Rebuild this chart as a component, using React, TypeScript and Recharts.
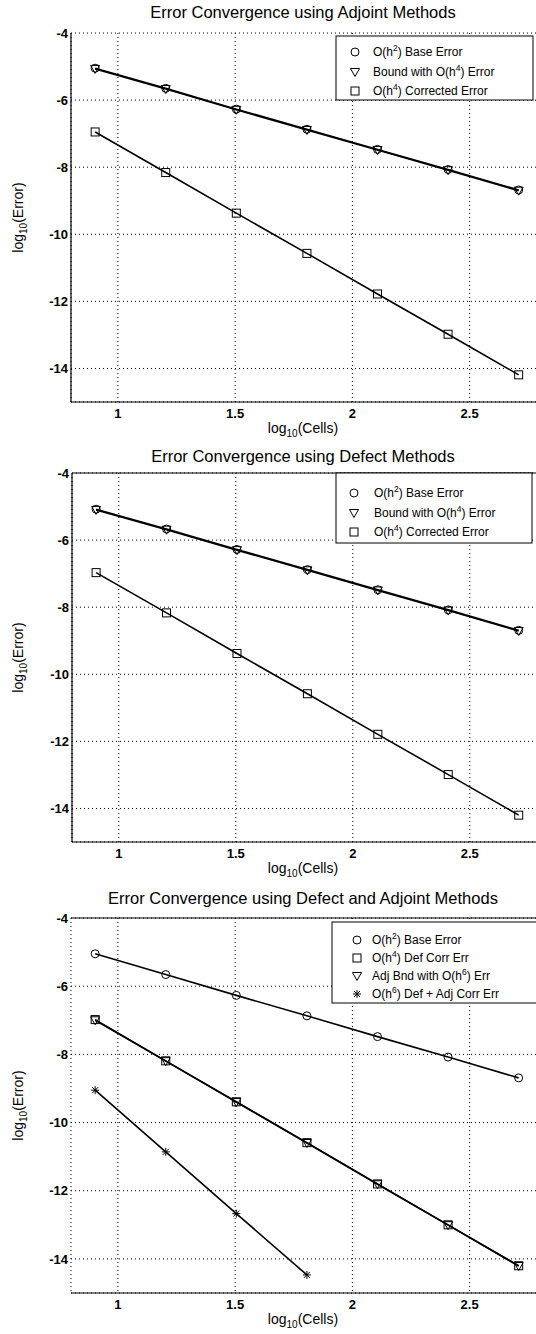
import { LineChart, Line, XAxis, YAxis, CartesianGrid, ReferenceLine } from "recharts";

// log10 of cell counts 8 .. 512
const cells = [0.903, 1.204, 1.505, 1.806, 2.107, 2.408, 2.709];

// Adjoint methods
const adjBase = [-5.05, -5.65, -6.27, -6.87, -7.47, -8.07, -8.68];
const adjBound = [-5.07, -5.67, -6.29, -6.89, -7.49, -8.09, -8.7];
const adjCorr = [-6.95, -8.16, -9.37, -10.57, -11.78, -12.98, -14.19];

// Defect methods
const defBase = [-5.08, -5.67, -6.28, -6.88, -7.48, -8.08, -8.69];
const defBound = [-5.1, -5.69, -6.3, -6.9, -7.5, -8.1, -8.71];
const defCorr = [-6.97, -8.17, -9.38, -10.58, -11.79, -12.99, -14.2];

// Defect + adjoint methods
const bothBase = [-5.05, -5.66, -6.27, -6.87, -7.48, -8.08, -8.69];
const bothDefCorr = [-6.98, -8.19, -9.39, -10.59, -11.8, -13.0, -14.2];
const bothAdjBnd = [-7.0, -8.2, -9.4, -10.6, -11.81, -13.01, -14.21];
const bothDefAdj = [-9.05, -10.86, -12.67, -14.47];

const xTicks = [1, 1.5, 2, 2.5];
const yTicks = [-14, -12, -10, -8, -6, -4];

const FONT = "'Liberation Sans', Arial, Helvetica, sans-serif";

const toPts = (ys: number[]) => ys.map((y, i) => ({ x: cells[i], y }));

const Circle = (p: any) => {
  if (p.cx == null || p.cy == null) return <g key={p.key} />;
  return <circle key={p.key} cx={p.cx} cy={p.cy} r={4} fill="none" stroke="#000" strokeWidth={1} />;
};
const Tri = (p: any) => {
  if (p.cx == null || p.cy == null) return <g key={p.key} />;
  const { cx, cy } = p;
  return (
    <polygon key={p.key} points={`${cx - 4.5},${cy - 3.5} ${cx + 4.5},${cy - 3.5} ${cx},${cy + 4.5}`} fill="none" stroke="#000" strokeWidth={1} />
  );
};
const Sq = (p: any) => {
  if (p.cx == null || p.cy == null) return <g key={p.key} />;
  return <rect key={p.key} x={p.cx - 4} y={p.cy - 4} width={8} height={8} fill="none" stroke="#000" strokeWidth={1} />;
};
const Star = (p: any) => {
  if (p.cx == null || p.cy == null) return <g key={p.key} />;
  const { cx, cy } = p;
  return (
    <g key={p.key} stroke="#000" strokeWidth={1}>
      <line x1={cx - 4} y1={cy} x2={cx + 4} y2={cy} />
      <line x1={cx} y1={cy - 4} x2={cx} y2={cy + 4} />
      <line x1={cx - 3} y1={cy - 3} x2={cx + 3} y2={cy + 3} />
      <line x1={cx - 3} y1={cy + 3} x2={cx + 3} y2={cy - 3} />
    </g>
  );
};

const markers: Record<string, any> = { circle: Circle, tri: Tri, sq: Sq, star: Star };

type Series = { name: string; data: number[]; marker: string };
type Entry = { marker: string; pre: string; sup: string; post: string };

const Plot = ({ top, height, plotH, yw, left, series, borderLeft, borderTop }: any) => {
  const marginTop = 33;
  return (
    <div style={{ position: "absolute", left: 0, top, width: 560, height }}>
      <LineChart width={560} height={height} margin={{ top: marginTop, right: 20, bottom: 0, left: left }}>
        <CartesianGrid stroke="#000" strokeDasharray="1 3" strokeWidth={1} />
        <XAxis
          type="number"
          dataKey="x"
          domain={[0.8, 2.8]}
          ticks={xTicks}
          allowDataOverflow
          height={height - marginTop - plotH}
          axisLine={{ stroke: "#000", strokeWidth: 1.2 }}
          tickLine={false}
          tickSize={0}
          tickMargin={7}
          tick={{ fontSize: 13, fontWeight: "bold", fill: "#000", fontFamily: FONT }}
        />
        <YAxis
          type="number"
          domain={[-15, -4]}
          ticks={yTicks}
          allowDataOverflow
          width={yw}
          axisLine={borderLeft ? { stroke: "#000", strokeWidth: 1.2 } : false}
          tickLine={false}
          tickSize={0}
          tickMargin={3}
          tick={{ fontSize: 13, fontWeight: "bold", fill: "#000", fontFamily: FONT }}
        />
        {borderTop && <ReferenceLine y={-4} stroke="#000" strokeWidth={1.2} />}
        {series.map((s: Series) => (
          <Line
            key={s.name}
            data={toPts(s.data)}
            dataKey="y"
            type="linear"
            stroke="#000"
            strokeWidth={1.6}
            dot={markers[s.marker]}
            activeDot={false}
            isAnimationActive={false}
          />
        ))}
      </LineChart>
    </div>
  );
};

const LegendMark = ({ kind, x, y }: any) => {
  const M = markers[kind];
  return <M cx={x} cy={y} />;
};

const Overlay = ({ top, height, title, titleY, plotTop, plotBottom, box, rows, rowX, textX }: any) => {
  const midY = (plotTop + plotBottom) / 2;
  return (
    <svg
      style={{ position: "absolute", left: 0, top, pointerEvents: "none" }}
      width={536}
      height={height}
      fontFamily={FONT}
    >
      <text x={303} y={titleY} textAnchor="middle" fontSize={16.5} fill="#000">
        {title}
      </text>
      <text x={303} y={plotBottom + 31} textAnchor="middle" fontSize={14} fill="#000">
        log<tspan dy={4} fontSize={10}>10</tspan>
        <tspan dy={-4}>(Cells)</tspan>
      </text>
      <text
        x={0}
        y={0}
        transform={`translate(23 ${midY}) rotate(-90)`}
        textAnchor="middle"
        fontSize={14}
        fill="#000"
      >
        log<tspan dy={4} fontSize={10}>10</tspan>
        <tspan dy={-4}>(Error)</tspan>
      </text>
      <rect x={box.x} y={box.y} width={box.w} height={box.h} fill="#fff" stroke="#000" strokeWidth={1} />
      {rows.map((r: Entry & { y: number }, i: number) => (
        <g key={i}>
          <LegendMark kind={r.marker} x={rowX} y={r.y} />
          <text x={textX} y={r.y + 4} fontSize={12} fill="#000">
            {r.pre}
            <tspan dy={-5} fontSize={8.5}>
              {r.sup}
            </tspan>
            <tspan dy={5}>{r.post}</tspan>
          </text>
        </g>
      ))}
    </svg>
  );
};

const adjSeries: Series[] = [
  { name: "base", data: adjBase, marker: "circle" },
  { name: "bound", data: adjBound, marker: "tri" },
  { name: "corr", data: adjCorr, marker: "sq" },
];
const defSeries: Series[] = [
  { name: "base", data: defBase, marker: "circle" },
  { name: "bound", data: defBound, marker: "tri" },
  { name: "corr", data: defCorr, marker: "sq" },
];
const bothSeries: Series[] = [
  { name: "base", data: bothBase, marker: "circle" },
  { name: "defcorr", data: bothDefCorr, marker: "sq" },
  { name: "adjbnd", data: bothAdjBnd, marker: "tri" },
  { name: "defadj", data: bothDefAdj, marker: "star" },
];

export default function App() {
  return (
    <div style={{ position: "absolute", left: 0, top: 0, width: 536, height: 1334, overflow: "hidden", background: "#fff" }}>
      <Plot top={0} height={445} plotH={369} yw={71} left={0} series={adjSeries} borderLeft borderTop={false} />
      <Overlay
        top={0}
        height={445}
        title="Error Convergence using Adjoint Methods"
        titleY={18}
        plotTop={33}
        plotBottom={402}
        box={{ x: 336, y: 36, w: 197, h: 64 }}
        rowX={355}
        textX={373}
        rows={[
          { marker: "circle", pre: "O(h", sup: "2", post: ") Base Error", y: 52 },
          { marker: "tri", pre: "Bound with O(h", sup: "4", post: ") Error", y: 72 },
          { marker: "sq", pre: "O(h", sup: "4", post: ") Corrected Error", y: 91 },
        ]}
      />
      <Plot top={440} height={445} plotH={369} yw={72} left={0} series={defSeries} borderLeft borderTop />
      <Overlay
        top={440}
        height={445}
        title="Error Convergence using Defect Methods"
        titleY={22}
        plotTop={33}
        plotBottom={402}
        box={{ x: 336, y: 33, w: 196, h: 70 }}
        rowX={354}
        textX={374}
        rows={[
          { marker: "circle", pre: "O(h", sup: "2", post: ") Base Error", y: 53 },
          { marker: "tri", pre: "Bound with O(h", sup: "4", post: ") Error", y: 73 },
          { marker: "sq", pre: "O(h", sup: "4", post: ") Corrected Error", y: 92 },
        ]}
      />
      <Plot top={885} height={449} plotH={375} yw={71} left={0} series={bothSeries} borderLeft={false} borderTop />
      <Overlay
        top={885}
        height={449}
        title="Error Convergence using Defect and Adjoint Methods"
        titleY={19}
        plotTop={33}
        plotBottom={408}
        box={{ x: 332, y: 37, w: 210, h: 81 }}
        rowX={357}
        textX={372}
        rows={[
          { marker: "circle", pre: "O(h", sup: "2", post: ") Base Error", y: 55 },
          { marker: "sq", pre: "O(h", sup: "4", post: ") Def Corr Err", y: 73 },
          { marker: "tri", pre: "Adj Bnd with O(h", sup: "6", post: ") Err", y: 91 },
          { marker: "star", pre: "O(h", sup: "6", post: ") Def + Adj Corr Err", y: 109 },
        ]}
      />
    </div>
  );
}
